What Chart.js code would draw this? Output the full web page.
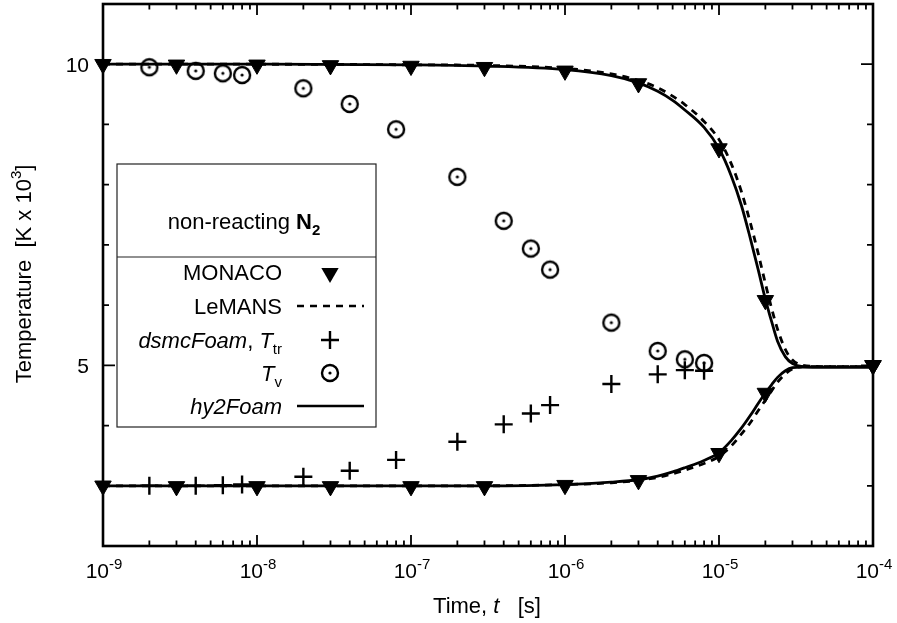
<!DOCTYPE html>
<html>
<head>
<meta charset="utf-8">
<script src="https://cdn.jsdelivr.net/npm/chart.js@4.4.1/dist/chart.umd.min.js"></script>
<style>
  html, body { margin: 0; padding: 0; background: #fff; }
  #wrap { width: 897px; height: 623px; }
</style>
</head>
<body>
<div id="wrap"><canvas id="chart" width="897" height="623"></canvas></div>
<script>
// MONACO symbols (upper = T_v, lower = T_tr), K x 10^3
const monacoTime  = [1e-9, 3e-9, 1e-8, 3e-8, 1e-7, 3e-7, 1e-6, 3e-6, 1e-5, 2e-5, 1e-4]
const monacoUpper = [10.0, 9.99, 9.99, 9.98, 9.97, 9.95, 9.89, 9.68, 8.60, 6.08, 5.0]
const monacoLower = [3.0, 2.99, 2.99, 2.99, 2.99, 2.99, 3.01, 3.09, 3.54, 4.54, 5.0]

// dsmcFoam symbols
const dsmcTime = [2e-9, 4e-9, 6e-9, 8e-9, 2e-8, 4e-8, 8e-8, 2e-7, 4e-7, 6e-7, 8e-7, 2e-6, 4e-6, 6e-6, 8e-6]
const dsmcTtr  = [3.0, 3.0, 3.01, 3.02, 3.15, 3.25, 3.43, 3.73, 4.02, 4.20, 4.34, 4.69, 4.85, 4.92, 4.91]
const dsmcTv   = [9.95, 9.89, 9.85, 9.82, 9.60, 9.34, 8.92, 8.13, 7.40, 6.94, 6.59, 5.71, 5.24, 5.10, 5.04]

// continuum curves
const lineTime    = [1e-9, 1e-8, 1e-7, 3e-7, 1e-6, 2e-6, 3e-6, 4e-6, 5e-6, 6e-6, 8e-6, 1e-5,
                     1.2e-5, 1.4e-5, 1.6e-5, 1.8e-5, 2e-5, 2.2e-5, 2.4e-5, 2.7e-5, 3e-5, 3.5e-5, 5e-5, 1e-4]
const hy2Upper    = [10.0, 10.0, 9.99, 9.97, 9.91, 9.81, 9.69, 9.55, 9.40, 9.24, 8.95, 8.60,
                     8.15, 7.65, 7.10, 6.58, 6.10, 5.72, 5.40, 5.14, 5.03, 4.98, 4.97, 4.97]
const hy2Lower    = [3.0, 3.0, 3.0, 3.0, 3.02, 3.06, 3.10, 3.16, 3.23, 3.30, 3.42, 3.55,
                     3.75, 3.96, 4.17, 4.37, 4.54, 4.68, 4.80, 4.91, 4.96, 4.97, 4.97, 4.97]
const lemansUpper = [10.0, 10.0, 9.99, 9.98, 9.93, 9.84, 9.73, 9.61, 9.47, 9.33, 9.05, 8.75,
                     8.35, 7.88, 7.36, 6.85, 6.36, 5.94, 5.60, 5.26, 5.09, 5.00, 4.98, 4.98]
const lemansLower = [3.0, 3.0, 3.0, 3.0, 3.02, 3.05, 3.09, 3.14, 3.20, 3.26, 3.37, 3.49,
                     3.66, 3.86, 4.05, 4.25, 4.42, 4.58, 4.72, 4.86, 4.94, 4.98, 4.98, 4.98]

// axis ticks
const xDecades   = [1e-9, 1e-8, 1e-7, 1e-6, 1e-5, 1e-4]
const xExponents = ['-9', '-8', '-7', '-6', '-5', '-4']
const yTicks     = [3, 4, 5, 6, 7, 8, 9, 10]
const yLabels    = [5, 10]

const FONT = 'Liberation Sans, Arial, sans-serif'
const pts = (xs, ys) => xs.map((x, i) => ({ x, y: ys[i] }))

// circle with centre dot symbol
function makeDotCircle () {
  const c = document.createElement('canvas')
  c.width = 22; c.height = 22
  const g = c.getContext('2d')
  g.strokeStyle = '#000'; g.lineWidth = 2.4
  g.beginPath(); g.arc(11, 11, 8, 0, Math.PI * 2); g.stroke()
  g.fillStyle = '#000'
  g.beginPath(); g.arc(11, 11, 1.6, 0, Math.PI * 2); g.fill()
  return c
}
const dotCircle = makeDotCircle()

// draw a run of text pieces: [text, font, dy]
function richWidth (ctx, segs) {
  let w = 0
  segs.forEach(s => { ctx.font = s[1]; w += ctx.measureText(s[0]).width })
  return w
}
function drawRich (ctx, segs, x, y, align) {
  const w = richWidth(ctx, segs)
  let cx = align === 'center' ? x - w / 2 : align === 'right' ? x - w : x
  ctx.textAlign = 'left'
  ctx.textBaseline = 'alphabetic'
  segs.forEach(s => {
    ctx.font = s[1]
    ctx.fillText(s[0], cx, y + (s[2] || 0))
    cx += ctx.measureText(s[0]).width
  })
}

const tick = `21px ${FONT}`
const tickSup = `15px ${FONT}`
const norm = `22px ${FONT}`
const ital = `italic 22px ${FONT}`
const bold = `bold 22px ${FONT}`
const small = `15px ${FONT}`
const smallBold = `bold 15px ${FONT}`

function drawTriangle (ctx, x, y, r) {
  ctx.beginPath()
  ctx.moveTo(x, y + r)
  ctx.lineTo(x - 0.866 * r, y - 0.5 * r)
  ctx.lineTo(x + 0.866 * r, y - 0.5 * r)
  ctx.closePath()
  ctx.fill()
}

const decorPlugin = {
  id: 'decor',
  afterDraw (chart) {
    const ctx = chart.ctx
    const { left, right, top, bottom } = chart.chartArea
    const xs = chart.scales.x, ys = chart.scales.y
    ctx.save()
    ctx.strokeStyle = '#000'
    ctx.fillStyle = '#000'

    // x ticks (inward, top and bottom)
    ctx.lineWidth = 1.8
    xDecades.forEach((d, i) => {
      const px = xs.getPixelForValue(d)
      if (i > 0 && i < xDecades.length - 1) {
        ctx.beginPath()
        ctx.moveTo(px, bottom); ctx.lineTo(px, bottom - 11)
        ctx.moveTo(px, top); ctx.lineTo(px, top + 11)
        ctx.stroke()
      }
      if (i < xDecades.length - 1) {
        for (let k = 2; k <= 9; k++) {
          const mx = xs.getPixelForValue(k * d)
          ctx.beginPath()
          ctx.moveTo(mx, bottom); ctx.lineTo(mx, bottom - 5.5)
          ctx.moveTo(mx, top); ctx.lineTo(mx, top + 5.5)
          ctx.stroke()
        }
      }
    })
    // y ticks
    yTicks.forEach(v => {
      const py = ys.getPixelForValue(v)
      const len = yLabels.includes(v) ? 12 : 6
      ctx.beginPath()
      ctx.moveTo(left, py); ctx.lineTo(left + len, py)
      ctx.moveTo(right, py); ctx.lineTo(right - len, py)
      ctx.stroke()
    })

    // frame
    ctx.lineWidth = 2.6
    ctx.strokeRect(left, top, right - left, bottom - top)

    // tick labels
    xDecades.forEach((d, i) => {
      drawRich(ctx, [['10', tick], [xExponents[i], tickSup, -9]], xs.getPixelForValue(d) + 1, 578, 'center')
    })
    yLabels.forEach(v => {
      drawRich(ctx, [[String(v), tick]], 89, ys.getPixelForValue(v) + 8, 'right')
    })

    // axis titles
    drawRich(ctx, [['Time, ', norm], ['t', ital], ['   [s]', norm]], 487, 613, 'center')
    ctx.save()
    ctx.translate(31, 274)
    ctx.rotate(-Math.PI / 2)
    drawRich(ctx, [['Temperature  [K x 10', norm], ['3', small, -10], [']', norm]], 0, 0, 'center')
    ctx.restore()

    // legend box
    const bx = 117, by = 164, bw = 259, bh = 263
    ctx.fillStyle = '#fff'
    ctx.fillRect(bx, by, bw, bh)
    ctx.fillStyle = '#000'
    ctx.strokeStyle = '#222'
    ctx.lineWidth = 1.2
    ctx.strokeRect(bx, by, bw, bh)
    ctx.beginPath(); ctx.moveTo(bx, 257); ctx.lineTo(bx + bw, 257); ctx.stroke()

    drawRich(ctx, [['non-reacting ', norm], ['N', bold], ['2', smallBold, 6]], 244, 229, 'center')

    const tx = 282, sx = 330
    const rows = [272, 306, 340, 373, 406]
    drawRich(ctx, [['MONACO', norm]], tx, rows[0] + 8, 'right')
    drawTriangle(ctx, sx, rows[0] + 1, 10)

    drawRich(ctx, [['LeMANS', norm]], tx, rows[1] + 8, 'right')
    ctx.strokeStyle = '#000'
    ctx.lineWidth = 2.6
    ctx.setLineDash([7, 6])
    ctx.beginPath(); ctx.moveTo(297, rows[1]); ctx.lineTo(364, rows[1]); ctx.stroke()
    ctx.setLineDash([])

    drawRich(ctx, [['dsmcFoam', ital], [', ', norm], ['T', ital], ['tr', small, 6]], tx, rows[2] + 8, 'right')
    ctx.lineWidth = 2.4
    ctx.beginPath()
    ctx.moveTo(sx - 9, rows[2]); ctx.lineTo(sx + 9, rows[2])
    ctx.moveTo(sx, rows[2] - 9); ctx.lineTo(sx, rows[2] + 9)
    ctx.stroke()

    drawRich(ctx, [['T', ital], ['v', small, 6]], tx, rows[3] + 8, 'right')
    ctx.drawImage(dotCircle, sx - 11, rows[3] - 11)

    drawRich(ctx, [['hy2Foam', ital]], tx, rows[4] + 8, 'right')
    ctx.lineWidth = 2.6
    ctx.beginPath(); ctx.moveTo(297, rows[4]); ctx.lineTo(364, rows[4]); ctx.stroke()

    ctx.restore()
  }
}

const markerBase = { showLine: false, clip: false, borderColor: '#000', backgroundColor: '#000' }
const lineBase = {
  showLine: true, pointRadius: 0, borderColor: '#000', borderWidth: 2.8,
  cubicInterpolationMode: 'monotone', clip: false
}

new Chart(document.getElementById('chart'), {
  type: 'scatter',
  data: {
    datasets: [
      { ...markerBase, label: 'MONACO', data: pts(monacoTime, monacoUpper),
        pointStyle: 'triangle', rotation: 180, pointRadius: 9.5, borderWidth: 1 },
      { ...markerBase, label: 'MONACO lower', data: pts(monacoTime, monacoLower),
        pointStyle: 'triangle', rotation: 180, pointRadius: 9.5, borderWidth: 1 },
      { ...markerBase, label: 'dsmcFoam Ttr', data: pts(dsmcTime, dsmcTtr),
        pointStyle: 'cross', pointRadius: 9, borderWidth: 2.4 },
      { ...markerBase, label: 'dsmcFoam Tv', data: pts(dsmcTime, dsmcTv),
        pointStyle: dotCircle, pointRadius: 9 },
      { ...lineBase, label: 'LeMANS', data: pts(lineTime, lemansUpper), borderDash: [7, 6] },
      { ...lineBase, label: 'LeMANS lower', data: pts(lineTime, lemansLower), borderDash: [7, 6] },
      { ...lineBase, label: 'hy2Foam', data: pts(lineTime, hy2Upper) },
      { ...lineBase, label: 'hy2Foam lower', data: pts(lineTime, hy2Lower) }
    ]
  },
  options: {
    responsive: false,
    animation: false,
    events: [],
    layout: { autoPadding: false, padding: { top: 4, right: 24, left: 0, bottom: 0 } },
    plugins: { legend: { display: false }, tooltip: { enabled: false } },
    scales: {
      x: {
        type: 'logarithmic', min: 1e-9, max: 1e-4,
        grid: { display: false }, border: { display: false },
        ticks: { display: false },
        afterFit (s) { s.height = 77 }
      },
      y: {
        type: 'linear', min: 2, max: 11,
        grid: { display: false }, border: { display: false },
        ticks: { display: false, stepSize: 1 },
        afterFit (s) { s.width = 103 }
      }
    }
  },
  plugins: [decorPlugin]
})
</script>
</body>
</html>
